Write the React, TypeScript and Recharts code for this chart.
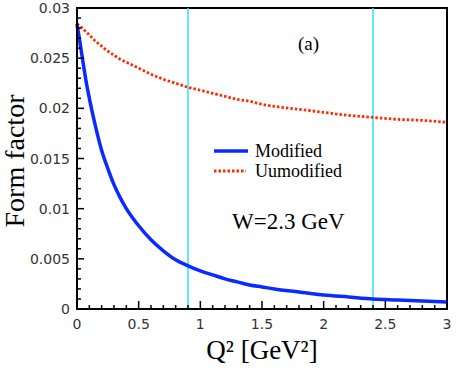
import { LineChart, Line, XAxis, YAxis, ReferenceLine, ReferenceArea } from 'recharts'

const q2 = [0, 0.025, 0.05, 0.075, 0.1, 0.15, 0.2, 0.25, 0.3, 0.35, 0.4, 0.45, 0.5, 0.6, 0.7, 0.8, 0.9, 1.0, 1.1, 1.2, 1.3, 1.4, 1.5, 1.6, 1.8, 2.0, 2.2, 2.4, 2.6, 2.8, 3.0]
const modified = [0.0284, 0.0265, 0.0245, 0.0226, 0.021, 0.0182, 0.0158, 0.014, 0.0124, 0.0111, 0.01, 0.0091, 0.0083, 0.0069, 0.0058, 0.0049, 0.0043, 0.0038, 0.0034, 0.003, 0.0027, 0.0024, 0.0022, 0.002, 0.0017, 0.0014, 0.0012, 0.001, 0.0009, 0.0008, 0.0007]
const unmodified = [0.0284, 0.0282, 0.0279, 0.0276, 0.0273, 0.0267, 0.0262, 0.0257, 0.0253, 0.0249, 0.0246, 0.0243, 0.024, 0.0234, 0.0229, 0.0225, 0.0221, 0.0218, 0.0215, 0.0212, 0.0209, 0.0207, 0.0204, 0.0202, 0.0199, 0.0196, 0.0193, 0.0191, 0.0189, 0.0188, 0.0186]

const xMajor = ['0', '0.5', '1', '1.5', '2', '2.5', '3']
const yMajor = ['0', '0.005', '0.01', '0.015', '0.02', '0.025', '0.03']
const markers = [0.9, 2.4]

// minor ticks every 0.1 (x) and 0.001 (y)
const xTicks = Array.from({ length: 31 }, (_, i) => i / 10)
const yTicks = Array.from({ length: 31 }, (_, i) => i / 1000)

const data = q2.map((x, i) => ({ x, modified: modified[i], unmodified: unmodified[i] }))

const serif = '"Liberation Serif", "Times New Roman", serif'
const sans = '"DejaVu Sans", Verdana, sans-serif'

function XTick({ x, y, payload }: any) {
  const v = payload.value
  const i = xMajor.findIndex((s) => Math.abs(parseFloat(s) - v) < 1e-6)
  const major = i >= 0
  return (
    <g>
      <line x1={x} x2={x} y1={y} y2={y - (major ? 8 : 4)} stroke="#000" strokeWidth={1.5} />
      {major && (
        <text x={x} y={y + 20} textAnchor="middle" fontSize={14} fontFamily={sans} fill="#333">
          {xMajor[i]}
        </text>
      )}
    </g>
  )
}

function YTick({ x, y, payload }: any) {
  const v = payload.value
  const i = yMajor.findIndex((s) => Math.abs(parseFloat(s) - v) < 1e-9)
  const major = i >= 0
  return (
    <g>
      <line x1={x} x2={x + (major ? 7 : 4)} y1={y} y2={y} stroke="#000" strokeWidth={1.5} />
      {major && (
        <text x={x - 7} y={y + 5} textAnchor="end" fontSize={14} fontFamily={sans} fill="#333">
          {yMajor[i]}
        </text>
      )}
    </g>
  )
}

function LegendBox() {
  return (
    <div style={{ fontFamily: serif, fontSize: 18, color: '#000', lineHeight: '20px' }}>
      <div style={{ display: 'flex', alignItems: 'center' }}>
        <svg width={34} height={20}>
          <line x1={0} x2={34} y1={10} y2={10} stroke="#0a2aff" strokeWidth={3.5} />
        </svg>
        <span style={{ marginLeft: 7 }}>Modified</span>
      </div>
      <div style={{ display: 'flex', alignItems: 'center' }}>
        <svg width={34} height={20}>
          <line x1={0} x2={32} y1={10} y2={10} stroke="#ff2a00" strokeWidth={2.8} strokeDasharray="2.5 2" />
        </svg>
        <span style={{ marginLeft: 7 }}>Uumodified</span>
      </div>
    </div>
  )
}

export default function App() {
  return (
    <div style={{ position: 'relative', width: 463, height: 371, background: '#fff' }}>
      <style>{'body{margin:0}'}</style>
      <LineChart width={463} height={371} data={data} margin={{ top: 8, right: 16, left: 0, bottom: 0 }}>
        <XAxis
          dataKey="x"
          type="number"
          domain={[0, 3]}
          ticks={xTicks}
          interval={0}
          tickSize={0}
          tickMargin={0}
          height={62}
          axisLine={{ stroke: '#000', strokeWidth: 2 }}
          tick={<XTick />}
        />
        <YAxis
          type="number"
          domain={[0, 0.03]}
          ticks={yTicks}
          interval={0}
          tickSize={0}
          tickMargin={0}
          width={77}
          axisLine={{ stroke: '#000', strokeWidth: 2 }}
          tick={<YTick />}
        />
        {markers.map((m) => (
          <ReferenceLine key={m} x={m} stroke="#2ee4f0" strokeWidth={1.5} />
        ))}
        <Line
          dataKey="unmodified"
          type="monotone"
          stroke="#ff2a00"
          strokeWidth={2.8}
          strokeDasharray="2.5 2"
          dot={false}
          isAnimationActive={false}
        />
        <Line dataKey="modified" type="monotone" stroke="#0a2aff" strokeWidth={3.5} dot={false} isAnimationActive={false} />
        <ReferenceArea x1={0} x2={3} y1={0} y2={0.03} fill="none" stroke="#000" strokeWidth={2} />
      </LineChart>
      <div style={{ position: 'absolute', left: 214, top: 141 }}>
        <LegendBox />
      </div>
      <div
        style={{
          position: 'absolute',
          left: 15,
          top: 161,
          transform: 'translate(-50%, -50%) rotate(-90deg)',
          fontFamily: serif,
          fontSize: 28,
          lineHeight: 1,
          whiteSpace: 'nowrap',
          color: '#000',
        }}
      >
        Form factor
      </div>
      <div
        style={{
          position: 'absolute',
          left: 262,
          top: 350,
          transform: 'translate(-50%, -50%)',
          fontFamily: serif,
          fontSize: 27,
          lineHeight: 1,
          whiteSpace: 'nowrap',
          color: '#000',
        }}
      >
        Q² [GeV²]
      </div>
      <div style={{ position: 'absolute', left: 298, top: 33, fontFamily: serif, fontSize: 19, color: '#000' }}>(a)</div>
      <div style={{ position: 'absolute', left: 232, top: 209, fontFamily: serif, fontSize: 23, color: '#000', whiteSpace: 'nowrap' }}>
        W=2.3 GeV
      </div>
    </div>
  )
}
